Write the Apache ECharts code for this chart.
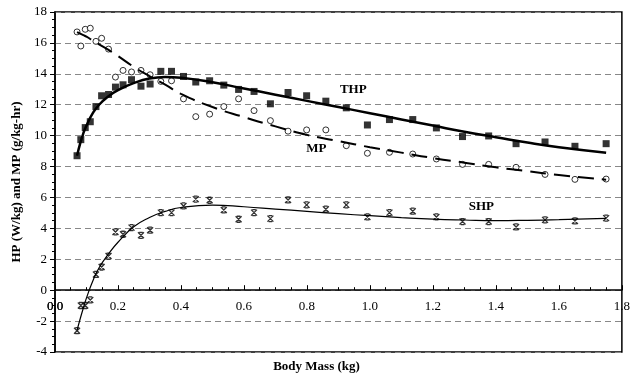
<!DOCTYPE html>
<html>
<head>
<meta charset="utf-8">
<script src="https://cdn.jsdelivr.net/npm/echarts@6/dist/echarts.min.js"></script>
<style>
  html, body { margin: 0; padding: 0; background: #fff; }
  #chart { width: 633px; height: 379px; }
</style>
</head>
<body>
<div id="chart"></div>
<script>
// body mass of each animal (kg), shared by the three measured series
const masses = [0.070, 0.082, 0.096, 0.112, 0.130, 0.148, 0.170, 0.192, 0.216, 0.243,
  0.273, 0.302, 0.336, 0.370, 0.408, 0.447, 0.491, 0.536, 0.583, 0.632,
  0.684, 0.740, 0.799, 0.860, 0.925, 0.992, 1.062, 1.136, 1.211, 1.294,
  1.377, 1.464, 1.556, 1.651, 1.750];

const thp = [8.70, 9.74, 10.52, 10.90, 11.88, 12.58, 12.66, 13.14, 13.29, 13.62,
  13.20, 13.34, 14.16, 14.16, 13.83, 13.47, 13.55, 13.27, 12.99, 12.86,
  12.06, 12.79, 12.58, 12.23, 11.80, 10.69, 11.04, 11.04, 10.50, 9.94,
  9.98, 9.48, 9.59, 9.31, 9.48];

const mp = [16.71, 15.80, 16.88, 16.95, 16.10, 16.30, 15.60, 13.79, 14.22, 14.12,
  14.22, 13.94, 13.51, 13.55, 12.38, 11.23, 11.39, 11.88, 12.38, 11.62,
  10.97, 10.29, 10.37, 10.37, 9.35, 8.86, 8.92, 8.81, 8.49, 8.14,
  8.14, 7.95, 7.49, 7.17, 7.19];

const shp = [-2.62, -0.99, -0.99, -0.63, 1.02, 1.50, 2.21, 3.77, 3.62, 4.05,
  3.55, 3.88, 5.02, 5.02, 5.45, 5.89, 5.82, 5.19, 4.59, 5.02,
  4.63, 5.84, 5.52, 5.24, 5.52, 4.74, 5.02, 5.11, 4.74, 4.44,
  4.44, 4.09, 4.55, 4.48, 4.66];

// fitted curves
const fitX = [0.07, 0.08, 0.09, 0.10, 0.12, 0.14, 0.17, 0.20, 0.25, 0.30, 0.35, 0.40, 0.50,
  0.60, 0.70, 0.80, 0.90, 1.00, 1.10, 1.20, 1.30, 1.40, 1.50, 1.60, 1.75];
const thpFit = [8.7, 9.5, 10.15, 10.65, 11.45, 12.0, 12.55, 12.95, 13.4, 13.7, 13.8, 13.75, 13.45,
  13.05, 12.65, 12.25, 11.85, 11.45, 11.05, 10.65, 10.25, 9.9, 9.55, 9.25, 8.9];
const mpFit = [16.7, 16.6, 16.5, 16.4, 16.15, 15.9, 15.55, 15.15, 14.45, 13.85, 13.3, 12.7, 11.85,
  11.2, 10.6, 10.05, 9.65, 9.25, 8.9, 8.55, 8.25, 7.95, 7.7, 7.45, 7.15];
const shpFit = [-2.6, -1.85, -1.15, -0.5, 0.6, 1.45, 2.35, 3.1, 4.1, 4.7, 5.1, 5.35, 5.5,
  5.4, 5.25, 5.1, 4.95, 4.82, 4.7, 4.6, 4.54, 4.5, 4.52, 4.56, 4.65];

const FONT = '"Liberation Serif", "DejaVu Serif", serif';
const pairs = (xs, ys) => xs.map((x, i) => [x, ys[i]]);
const X_MARK = 'path://M0,0L10,10M10,0L0,10M2,0L8,0M2,10L8,10';

const chart = echarts.init(document.getElementById('chart'));

const curveLabel = (text, coord) => ({
  symbol: 'circle',
  symbolSize: 0,
  label: {
    show: true, position: 'inside', formatter: text,
    fontFamily: FONT, fontWeight: 'bold', fontSize: 13, color: '#000'
  },
  data: [{ coord }]
});

chart.setOption({
  animation: false,
  backgroundColor: '#fff',
  grid: {
    left: 55, right: 3, top: 12, bottom: 27,
    show: true, borderColor: '#000', borderWidth: 1.5, backgroundColor: 'transparent'
  },
  xAxis: {
    type: 'value',
    position: 'bottom',
    min: 0, max: 1.8, interval: 0.2,
    axisLine: { onZero: false, lineStyle: { color: '#000', width: 1.5 } },
    axisTick: { show: true, length: 5, inside: true, lineStyle: { color: '#000' } },
    minorTick: { show: true, splitNumber: 4, length: 3, lineStyle: { color: '#000' } },
    axisLabel: {
      margin: 10, fontFamily: FONT, fontSize: 13, color: '#000',
      showMinLabel: true, showMaxLabel: true, hideOverlap: false,
      formatter: v => v.toFixed(1)
    },
    splitLine: { show: false }
  },
  yAxis: {
    type: 'value',
    min: -4, max: 18, interval: 2,
    name: 'HP (W/kg) and MP (g/kg-hr)',
    nameLocation: 'middle',
    nameGap: 30,
    nameTextStyle: { fontFamily: FONT, fontWeight: 'bold', fontSize: 13, color: '#000' },
    axisLine: { show: true, onZero: false, lineStyle: { color: '#000', width: 1.5 } },
    axisTick: { show: true, length: 5, lineStyle: { color: '#000' } },
    minorTick: { show: true, splitNumber: 4, length: 3, lineStyle: { color: '#000' } },
    axisLabel: { margin: 8, fontFamily: FONT, fontSize: 13, color: '#000' },
    splitLine: { show: true, lineStyle: { color: '#888', type: [6, 4], width: 1 } }
  },
  series: [
    {
      name: 'THP fit', type: 'line', smooth: true, showSymbol: false,
      data: pairs(fitX, thpFit),
      lineStyle: { color: '#000', width: 2.5 },
      markPoint: curveLabel('THP', [0.947, 13.0])
    },
    {
      name: 'MP fit', type: 'line', smooth: true, showSymbol: false,
      data: pairs(fitX, mpFit),
      lineStyle: { color: '#000', width: 2, type: [16, 8] },
      markPoint: curveLabel('MP', [0.83, 9.14])
    },
    {
      name: 'SHP fit', type: 'line', smooth: true, showSymbol: false,
      data: pairs(fitX, shpFit),
      lineStyle: { color: '#000', width: 1.2 },
      markPoint: curveLabel('SHP', [1.354, 5.43])
    },
    {
      name: 'THP', type: 'scatter', symbol: 'rect', symbolSize: 7,
      data: pairs(masses, thp),
      itemStyle: { color: '#000' }
    },
    {
      name: 'MP', type: 'scatter', symbol: 'circle', symbolSize: 6,
      data: pairs(masses, mp),
      itemStyle: { color: '#fff', borderColor: '#000', borderWidth: 1 }
    },
    {
      name: 'SHP', type: 'scatter', symbol: X_MARK, symbolSize: 6,
      data: pairs(masses, shp),
      itemStyle: { color: 'none', borderColor: '#000', borderWidth: 1.3 }
    }
  ]
});

// move the x axis up so it crosses the y axis at zero
const yZero = chart.convertToPixel({ yAxisIndex: 0 }, 0);
const yBottom = chart.convertToPixel({ yAxisIndex: 0 }, -4);
const xZero = chart.convertToPixel({ xAxisIndex: 0 }, 0);
chart.setOption({
  xAxis: { offset: -(yBottom - yZero) },
  graphic: [
    {
      type: 'text', left: 'center', top: 360,
      style: { text: 'Body Mass (kg)', font: 'bold 13px ' + FONT, fill: '#000' }
    },
    {
      // the origin label is dropped by the library where the axes cross
      type: 'text', x: xZero, y: yZero + 10,
      style: { text: '0.0', font: '13px ' + FONT, fill: '#000', align: 'center', verticalAlign: 'top' }
    }
  ]
});
</script>
</body>
</html>
